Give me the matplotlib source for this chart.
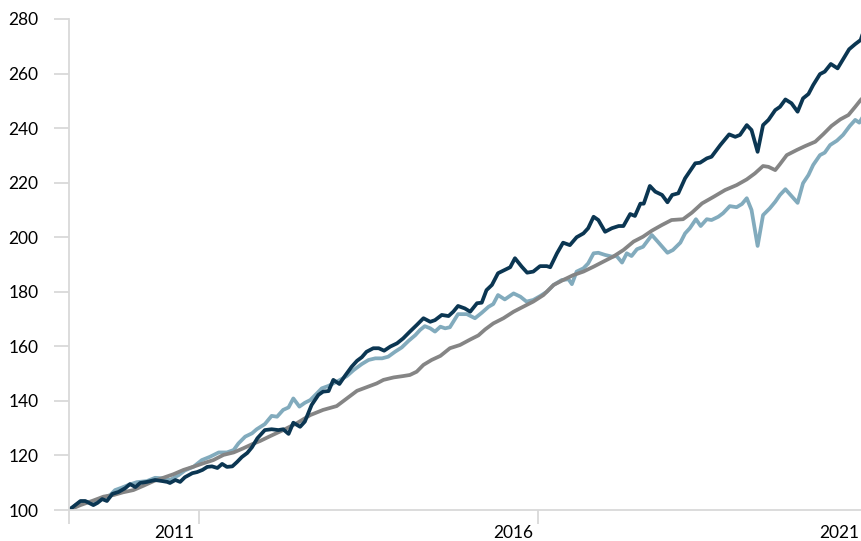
import matplotlib
matplotlib.use("Agg")
import matplotlib.pyplot as plt

# navy series (decimal year, index value)
navy_x = [2009.08, 2009.25, 2009.32, 2009.44, 2009.50, 2009.57, 2009.64, 2009.72, 2009.81, 2009.91,
          2009.98, 2010.06, 2010.13, 2010.23, 2010.35, 2010.46, 2010.53, 2010.57, 2010.65, 2010.72,
          2010.79, 2010.90, 2010.97, 2011.05, 2011.12, 2011.19, 2011.27, 2011.34, 2011.41, 2011.49,
          2011.56, 2011.63, 2011.71, 2011.78, 2011.86, 2011.97, 2012.07, 2012.17, 2012.24, 2012.32,
          2012.39, 2012.49, 2012.56, 2012.66, 2012.76, 2012.83, 2012.91, 2012.98, 2013.07, 2013.15,
          2013.25, 2013.33, 2013.40, 2013.47, 2013.57, 2013.65, 2013.73, 2013.82, 2013.92, 2014.01,
          2014.11, 2014.21, 2014.31, 2014.41, 2014.48, 2014.58, 2014.68, 2014.75, 2014.82, 2014.92,
          2015.00, 2015.10, 2015.17, 2015.24, 2015.32, 2015.41, 2015.51, 2015.59, 2015.66, 2015.76,
          2015.84, 2015.93, 2016.03, 2016.13, 2016.18, 2016.28, 2016.37, 2016.47, 2016.57, 2016.67,
          2016.74, 2016.82, 2016.89, 2016.99, 2017.09, 2017.19, 2017.26, 2017.36, 2017.43, 2017.51,
          2017.56, 2017.65, 2017.73, 2017.83, 2017.91, 2017.98, 2018.07, 2018.17, 2018.32, 2018.39,
          2018.49, 2018.56, 2018.69, 2018.82, 2018.91, 2018.98, 2019.08, 2019.15, 2019.24, 2019.32,
          2019.40, 2019.50, 2019.57, 2019.65, 2019.74, 2019.83, 2019.91, 2019.99, 2020.06, 2020.16,
          2020.23, 2020.32, 2020.42, 2020.50, 2020.59, 2020.68, 2020.76, 2020.78]
navy_y = [100, 103.3, 103.3, 101.8, 102.6, 104, 103.3, 105.9, 106.6, 108,
          109.5, 108.4, 109.9, 110.3, 111, 110.6, 110.3, 109.9, 111, 110.3,
          112, 113.5, 113.9, 114.7, 115.8, 116, 115.4, 116.9, 115.8, 116,
          117.6, 119.4, 120.9, 123, 126.3, 129.3, 129.6, 129.3, 129.6, 127.9,
          132, 130.5, 132.4, 138.5, 142.2, 143.4, 143.6, 147.7, 146.2, 149.1,
          152.5, 154.7, 156, 158, 159.3, 159.3, 158.4, 159.9, 161.1, 162.9,
          165.4, 167.8, 170.3, 169, 169.6, 171.5, 171.1, 172.7, 174.8, 173.9,
          172.7, 175.8, 176, 180.6, 182.5, 186.8, 188, 189, 192.3, 189.2,
          187, 187.4, 189.4, 189.4, 189, 194.1, 198, 197.1, 200, 201.4,
          203.3, 207.5, 206.3, 202, 203.3, 204.1, 204.1, 208.5, 207.8, 212.3,
          212.3, 218.8, 216.7, 215.5, 212.8, 215.5, 216.1, 221.6, 227.1, 227.3,
          228.9, 229.5, 233.8, 237.7, 236.8, 237.5, 241.1, 239.3, 231.3, 241.1,
          243, 246.6, 247.8, 250.5, 249.1, 246, 250.9, 252.5, 255.8, 259.8,
          260.7, 263.5, 261.9, 265.2, 268.9, 270.8, 272.3, 273.8]

# light blue series
light_x = [2009.08, 2009.25, 2009.42, 2009.57, 2009.69, 2009.76, 2009.86, 2009.96, 2010.08, 2010.23,
           2010.35, 2010.47, 2010.57, 2010.70, 2010.79, 2010.92, 2011.04, 2011.16, 2011.29, 2011.41,
           2011.51, 2011.58, 2011.68, 2011.78, 2011.85, 2011.97, 2012.07, 2012.15, 2012.24, 2012.32,
           2012.39, 2012.48, 2012.56, 2012.64, 2012.74, 2012.81, 2012.91, 2012.98, 2013.08, 2013.18,
           2013.28, 2013.40, 2013.50, 2013.60, 2013.70, 2013.79, 2013.89, 2013.99, 2014.09, 2014.19,
           2014.26, 2014.33, 2014.41, 2014.48, 2014.56, 2014.63, 2014.70, 2014.82, 2014.95, 2015.07,
           2015.17, 2015.27, 2015.34, 2015.41, 2015.51, 2015.64, 2015.74, 2015.83, 2015.93, 2016.03,
           2016.13, 2016.23, 2016.35, 2016.45, 2016.50, 2016.57, 2016.67, 2016.74, 2016.82, 2016.89,
           2016.99, 2017.09, 2017.16, 2017.24, 2017.31, 2017.38, 2017.46, 2017.55, 2017.68, 2017.78,
           2017.91, 2017.99, 2018.10, 2018.17, 2018.24, 2018.33, 2018.40, 2018.49, 2018.56, 2018.66,
           2018.73, 2018.83, 2018.93, 2019.01, 2019.08, 2019.15, 2019.24, 2019.32, 2019.42, 2019.50,
           2019.57, 2019.65, 2019.74, 2019.83, 2019.91, 2019.99, 2020.06, 2020.16, 2020.23, 2020.31,
           2020.41, 2020.50, 2020.60, 2020.68, 2020.74, 2020.78]
light_y = [100, 103, 103, 104.3, 105.5, 107.3, 108.2, 109.2, 110.2, 110.6,
           111.8, 111.6, 111, 112.8, 114.5, 115.9, 118.3, 119.5, 121.1, 121.1,
           122, 124.4, 126.9, 128.1, 129.6, 131.5, 134.5, 134.2, 136.7, 137.6,
           140.9, 137.9, 139.3, 140.3, 142.8, 144.6, 145.5, 146.4, 147.7, 149.1,
           151.3, 153.5, 155, 155.6, 155.6, 156.2, 158, 159.6, 162, 164.1,
           166, 167.4, 166.6, 165.4, 167.2, 166.6, 167, 171.8, 171.8, 170.3,
           172.3, 174.5, 175.5, 178.8, 177.2, 179.4, 178.2, 176.4, 177, 178.4,
           180, 182.5, 184.3, 184.6, 182.8, 187.4, 188.6, 190.4, 194.1, 194.3,
           193.5, 192.9, 193.1, 190.7, 194.1, 193.1, 195.6, 196.5, 200.8, 198,
           194.3, 195.3, 198, 201.4, 203.3, 206.6, 204.1, 206.6, 206.3, 207.5,
           208.8, 211.4, 211, 212.2, 214.3, 210, 196.8, 208.1, 210.6, 213,
           215.5, 217.6, 215.1, 212.6, 219.8, 222.8, 226.5, 230.1, 231, 233.8,
           235.4, 237.5, 240.8, 243, 242, 243.6]

# gray series
gray_x = [2009.08, 2009.25, 2009.42, 2009.59, 2009.74, 2009.88, 2010.03, 2010.18, 2010.33, 2010.47,
          2010.62, 2010.77, 2010.92, 2011.06, 2011.21, 2011.36, 2011.51, 2011.65, 2011.78, 2011.90,
          2012.05, 2012.24, 2012.44, 2012.64, 2012.83, 2013.03, 2013.18, 2013.33, 2013.47, 2013.62,
          2013.72, 2013.87, 2014.01, 2014.11, 2014.21, 2014.31, 2014.43, 2014.56, 2014.70, 2014.85,
          2015.00, 2015.12, 2015.22, 2015.34, 2015.49, 2015.64, 2015.78, 2015.93, 2016.08, 2016.23,
          2016.37, 2016.52, 2016.67, 2016.82, 2016.96, 2017.11, 2017.26, 2017.41, 2017.55, 2017.68,
          2017.83, 2017.97, 2018.14, 2018.27, 2018.42, 2018.59, 2018.76, 2018.93, 2019.08, 2019.20,
          2019.32, 2019.40, 2019.50, 2019.57, 2019.67, 2019.82, 2019.94, 2020.09, 2020.21, 2020.33,
          2020.46, 2020.58, 2020.68, 2020.76, 2020.78]
gray_y = [100, 101.8, 103.3, 104.9, 105.5, 106.5, 107.3, 108.9, 110.6, 111.8,
          113.1, 114.7, 115.9, 117.1, 118.3, 120.2, 121.1, 122.6, 124.1, 125.3,
          127.1, 129.3, 131.8, 134.8, 136.7, 138.1, 140.9, 143.7, 145, 146.4,
          147.7, 148.6, 149.1, 149.5, 150.7, 153.2, 155, 156.5, 159.3, 160.5,
          162.5, 164, 166.2, 168.4, 170.3, 172.7, 174.5, 176.4, 178.8, 182.5,
          184.3, 186.1, 187.4, 189.2, 191, 192.9, 195.3, 198.4, 200.2, 202.4,
          204.5, 206.3, 206.6, 209, 212.4, 214.8, 217.3, 219.1, 221.2, 223.4,
          226.1, 225.8, 224.6, 226.8, 230.1, 232, 233.4, 235, 237.8, 240.8,
          243.2, 244.8, 247.8, 250.3, 250.8]

y_ticks = [100, 120, 140, 160, 180, 200, 220, 240, 260, 280]
year_ticks = [2011, 2016]
year_labels = ["2011", "2016", "2021"]
label_pos = [2010.63, 2015.64, 2020.45]

plt.rcParams['font.family'] = ['Lato', 'DejaVu Sans']

fig = plt.figure(figsize=(8.62, 5.41), dpi=100)
ax = fig.add_axes([0.080, 0.0573, 0.920, 0.9076])

ax.plot(light_x, light_y, color='#82abbd', lw=2.7, solid_joinstyle='round')
ax.plot(gray_x, gray_y, color='#858585', lw=2.7, solid_joinstyle='round')
ax.plot(navy_x, navy_y, color='#0b3652', lw=2.7, solid_joinstyle='round')

ax.set_xlim(2009.08, 2020.78)
ax.set_ylim(100, 280)

for s in ['top', 'right']:
    ax.spines[s].set_visible(False)
for s in ['left', 'bottom']:
    ax.spines[s].set_color('#d9d9d9')
    ax.spines[s].set_linewidth(1.3)

ax.set_yticks(y_ticks)
ax.tick_params(axis='y', length=11, width=1.3, color='#d9d9d9', pad=11,
               labelsize=12.5, labelcolor='#000000')

ax.set_xticks([2009.08] + year_ticks)
ax.set_xticklabels([])
ax.set_xticks(label_pos, minor=True)
ax.set_xticklabels(year_labels, minor=True)
ax.tick_params(axis='x', which='major', length=10, width=1.3, color='#d9d9d9')
ax.tick_params(axis='x', which='minor', length=0, pad=10.5, labelsize=12.5,
               labelcolor='#000000')

fig.savefig('out.png', dpi=100)
